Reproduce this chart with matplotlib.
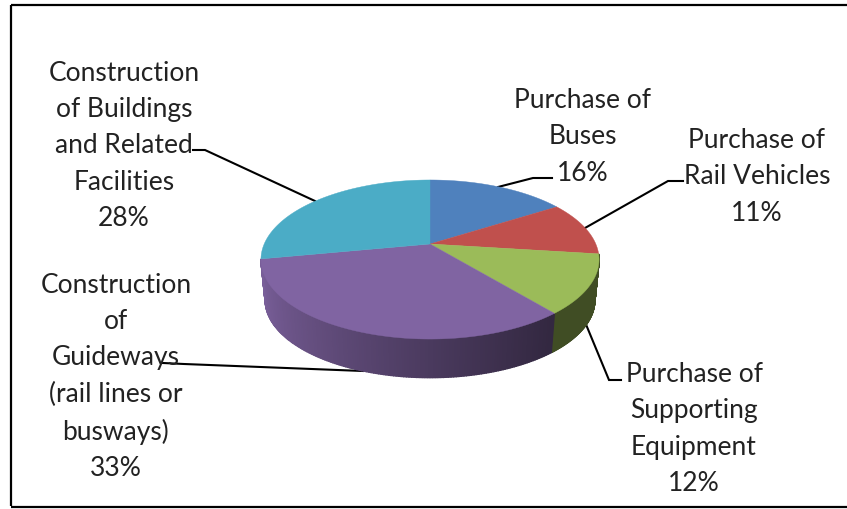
import numpy as np
import matplotlib
matplotlib.use("Agg")
import matplotlib.pyplot as plt
from matplotlib.patches import Polygon
from matplotlib.colors import to_rgb

categories = ["Purchase of\nBuses", "Purchase of\nRail Vehicles",
              "Purchase of\nSupporting\nEquipment",
              "Construction\nof\nGuideways\n(rail lines or\nbusways)",
              "Construction\nof Buildings\nand Related\nFacilities"]
shares = [16, 11, 12, 33, 28]
colors = ["#4f81bd", "#c0504d", "#9bbb59", "#8064a2", "#4bacc6"]

label_pos = [(583, 137), (757, 177), (694, 429), (116, 377), (124, 146)]
leaders = [[(498, 188), (533, 179), (552, 179)],
           [(585, 229), (668, 182), (683, 182)],
           [(585, 323), (609, 381), (621, 381)],
           [(363, 372), (184, 365), (163, 364)],
           [(315, 202), (205, 151), (193, 151)]]

CX, CY, B, A, K = 430.0, 245.0, 165.8, 76.5, 0.195
DEPTH, SCALE = 41.0, 0.975


def rim(theta, depth=0.0, scale=1.0):
    w = 1 + K * np.sin(theta)
    return np.column_stack([CX + scale * B * np.cos(theta) / w,
                            CY + depth - scale * A * np.sin(theta) / w])


fig = plt.figure(figsize=(8.47, 5.10), dpi=100)
ax = fig.add_axes([0, 0, 1, 1])
ax.set_xlim(0, 847)
ax.set_ylim(510, 0)
ax.axis("off")

# frame
ax.plot([11, 11], [6, 507], color="black", lw=1.6, solid_capstyle="butt")
ax.plot([11, 847], [6, 6], color="black", lw=1.6, solid_capstyle="butt")
ax.plot([11, 847], [507.5, 507.5], color="black", lw=1.6, solid_capstyle="butt")

edges = np.cumsum([0] + shares) / sum(shares)
starts = np.pi / 2 - 2 * np.pi * edges[:-1]
stops = np.pi / 2 - 2 * np.pi * edges[1:]

# side wall: only the front slices show, shaded along their length
for i in (2, 3):
    th = np.linspace(starts[i], stops[i], 160)
    for t0, t1 in zip(th[:-1], th[1:]):
        top = rim(np.array([t0, t1]))
        bot = rim(np.array([t1, t0]), DEPTH, SCALE)
        u = (np.cos(t0) * B + 170) / 340          # 0 at left, 1 at right
        base = np.array(to_rgb(colors[i]))
        if i == 3:
            f = 0.98 - 0.58 * np.clip(u / 0.80, 0, 1) ** 0.8
        else:
            f = 0.41
        c = tuple(np.clip(base * f, 0, 1))
        ax.add_patch(Polygon(np.vstack([top, bot]), closed=True, facecolor=c,
                             edgecolor=c, lw=1.0, zorder=2))

# top face
for i in range(len(shares)):
    th = np.linspace(starts[i], stops[i], 200)
    pts = np.vstack([[CX, CY], rim(th)])
    ax.add_patch(Polygon(pts, closed=True, facecolor=colors[i],
                         edgecolor=colors[i], lw=0.3, zorder=3))

# leader lines
for line in leaders:
    xs, ys = zip(*line)
    ax.plot(xs, ys, color="black", lw=1.5, solid_joinstyle="miter", zorder=1)

# labels
for cat, val, (x, y) in zip(categories, shares, label_pos):
    ax.text(x, y, f"{cat}\n{val}%", ha="center", va="center", ma="center",
            family="Lato", fontsize=19, color="#222222", linespacing=1.56,
            zorder=5)

fig.savefig("out.png", dpi=100)
